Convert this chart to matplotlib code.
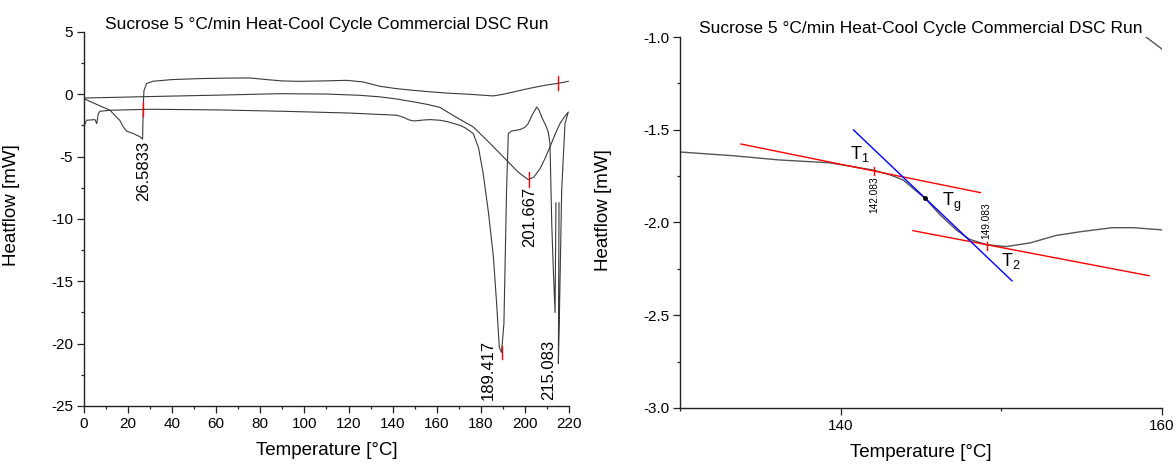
import matplotlib
matplotlib.use("Agg")
import matplotlib.pyplot as plt
from matplotlib.ticker import MultipleLocator, FormatStrFormatter

plt.rcParams["font.family"] = ["Liberation Sans", "DejaVu Sans"]
plt.rcParams["axes.unicode_minus"] = False
plt.rcParams["mathtext.fontset"] = "custom"
plt.rcParams["mathtext.rm"] = "Liberation Sans"
plt.rcParams["mathtext.it"] = "Liberation Sans"

# ── Full run (left panel) ─────────────────────────────────────────────────────
heat1_T = [0, 5, 11.8, 16.3, 17.8, 19.3, 22.4, 25.4, 26.58, 26.9, 27.2, 28.4, 31.4,
           40, 52.6, 65, 75.3, 82.9, 90, 98, 110, 119.2, 126.7, 134.3, 142, 149.4,
           157, 164.5, 175, 185.7, 190, 194.7, 200, 205, 210, 214.4, 219.7]
heat1_hf = [-0.35, -0.75, -1.28, -2.1, -2.6, -2.95, -3.15, -3.4, -3.6, -1.0, 0.3, 0.86, 1.05,
            1.18, 1.26, 1.3, 1.31, 1.18, 1.07, 1.04, 1.08, 1.12, 0.99, 0.64, 0.45, 0.32,
            0.2, 0.1, 0.0, -0.13, 0.0, 0.18, 0.4, 0.58, 0.75, 0.86, 1.04]

mid_T = [0, 30, 60, 89, 110, 125, 134, 142, 150, 156, 161.5, 168, 176.6, 184, 191.7,
         197, 201.5, 204, 206.9, 209, 211.4, 213.5, 215.9, 218, 219.7,
         218.2, 216.7, 215.6, 215.2, 215.5]
mid_hf = [-0.3, -0.18, -0.07, 0.05, 0.02, -0.08, -0.2, -0.38, -0.62, -0.82, -1.05, -1.75,
          -2.62, -3.9, -5.29, -6.25, -6.84, -6.65, -5.96, -5.2, -4.22, -3.3, -2.35, -1.8,
          -1.42, -2.35, -7.7, -18.4, -21.6, -8.7]

reheat_T = [0, 0.45, 1.2, 5.0, 5.8, 6.5, 7.3, 11.8, 30, 60, 90, 120, 142, 145.3, 147.2,
            149.1, 150.3, 153.4, 157, 161.5, 165, 170.6, 173, 176.6, 179, 181.1, 183.5,
            185.7, 187.2, 188.4, 189.4, 190.5, 191.1, 191.7, 192.5, 194.0, 197.8, 200,
            201.5, 203.5, 205.4, 206.5, 207.6, 209.5, 210.6, 211.4, 212.2, 212.9, 213.7, 214.1]
reheat_hf = [-2.7, -2.35, -2.08, -2.03, -2.35, -1.55, -1.36, -1.28, -1.2, -1.25, -1.36,
             -1.5, -1.68, -1.87, -2.04, -2.12, -2.13, -2.07, -2.03, -2.08, -2.2, -2.49,
             -2.7, -3.15, -4.3, -6.36, -9.5, -13.0, -16.8, -20.3, -20.7, -18.4, -13.0,
             -7.7, -3.15, -2.94, -2.83, -2.65, -2.35, -1.6, -1.02, -1.3, -1.82, -2.5,
             -3.02, -3.95, -10.4, -14.0, -17.5, -8.7]

# evaluated points: temperature, tick y-range, label anchor
peak_T = [26.5833, 201.667, 189.417, 215.083]
peak_labels = ["26.5833", "201.667", "189.417", "215.083"]
tick_lo = [-1.74, -7.43, -21.2, 0.38]
tick_hi = [-0.62, -6.23, -20.2, 1.44]
label_T = [27.2, 202.0, 183.4, 210.6]
label_y = [-3.75, -7.45, -24.5, -24.5]
label_va = ["top", "top", "bottom", "bottom"]
tick_T = [26.6, 201.67, 189.5, 215.2]

# ── Glass-transition zoom (right panel) ───────────────────────────────────────
zoom_T = [130, 133.3, 136.2, 139.3, 142.0, 143.1, 143.9, 144.5, 145.26, 146.2, 147.2,
          148.0, 149.1, 150.3, 151.8, 153.4, 154.9, 156.9, 158.2, 160.05]
zoom_hf = [-1.62, -1.64, -1.663, -1.678, -1.717, -1.744, -1.771, -1.816, -1.87, -1.96,
           -2.04, -2.09, -2.12, -2.13, -2.11, -2.07, -2.05, -2.028, -2.028, -2.04]
frag_T = [158.0, 161.0]
frag_hf = [-0.935, -1.13]

onset_T = [133.8, 148.7]        # T1 baseline tangent
onset_hf = [-1.577, -1.839]
end_T = [144.5, 159.2]          # T2 baseline tangent
end_hf = [-2.044, -2.287]
slope_T = [140.8, 150.67]       # inflection tangent
slope_hf = [-1.501, -2.315]
tg_T, tg_hf = 145.26, -1.87

T1_val, T2_val = 142.083, 149.083

TITLE = "Sucrose 5 \u00b0C/min Heat-Cool Cycle Commercial DSC Run"
CURVE = "#3a3a3a"

fig = plt.figure(figsize=(11.76, 4.66), dpi=100)
ax1 = fig.add_axes([0.0714, 0.1288, 0.4124, 0.8026])
ax2 = fig.add_axes([0.5782, 0.1245, 0.4099, 0.7961])

for ax in (ax1, ax2):
    for s in ("top", "right"):
        ax.spines[s].set_visible(False)
    for s in ("left", "bottom"):
        ax.spines[s].set_linewidth(1.0)
        ax.spines[s].set_color("#222222")
    ax.tick_params(which="major", direction="out", length=4.8, width=0.9,
                   labelsize=11, color="#222222", pad=3)
    ax.tick_params(which="minor", direction="out", length=2.5, width=0.9, color="#222222")

# left panel
ax1.plot(heat1_T, heat1_hf, color=CURVE, lw=0.8)
ax1.plot(mid_T, mid_hf, color=CURVE, lw=0.8)
ax1.plot(reheat_T, reheat_hf, color=CURVE, lw=0.8)
for t, lo, hi in zip(tick_T, tick_lo, tick_hi):
    ax1.plot([t, t], [lo, hi], color="red", lw=1.0)
for lbl, t, y, va in zip(peak_labels, label_T, label_y, label_va):
    ax1.text(t, y, lbl, rotation=90, ha="center", va=va, fontsize=12)

ax1.set_xlim(0, 220)
ax1.set_ylim(-25, 5)
ax1.xaxis.set_major_locator(MultipleLocator(20))
ax1.xaxis.set_minor_locator(MultipleLocator(10))
ax1.yaxis.set_major_locator(MultipleLocator(5))
ax1.yaxis.set_minor_locator(MultipleLocator(2.5))
ax1.set_title(TITLE, fontsize=12.5, pad=1.5)
ax1.set_xlabel("Temperature [\u00b0C]", fontsize=13.5)
ax1.set_ylabel("Heatflow [mW]", fontsize=13.5)
ax1.xaxis.set_label_coords(0.5, -0.096)
ax1.yaxis.set_label_coords(-0.132, 0.536)

# right panel
ax2.plot(zoom_T, zoom_hf, color="#555555", lw=1.0)
ax2.plot(frag_T, frag_hf, color="#555555", lw=1.0)
ax2.plot(onset_T, onset_hf, color="red", lw=1.0)
ax2.plot(end_T, end_hf, color="red", lw=1.0)
ax2.plot(slope_T, slope_hf, color="blue", lw=1.0)
ax2.plot(tg_T, tg_hf, "o", color="black", ms=2.5)

ax2.plot([T1_val, T1_val], [-1.70, -1.744], color="red", lw=1.0)
ax2.plot([T2_val, T2_val], [-2.103, -2.148], color="red", lw=1.0)
ax2.text(T1_val, -1.753, f"{T1_val:.3f}", rotation=90, ha="center", va="top", fontsize=7.3)
ax2.text(T2_val, -2.087, f"{T2_val:.3f}", rotation=90, ha="center", va="bottom", fontsize=7.3)
ax2.text(140.6, -1.63, r"T$_\mathregular{1}$", fontsize=13, va="center")
ax2.text(146.3, -1.89, r"T$_\mathregular{g}$", fontsize=13, va="center")
ax2.text(150.0, -2.21, r"T$_\mathregular{2}$", fontsize=13, va="center")

ax2.set_xlim(130, 160)
ax2.set_ylim(-3.0, -1.0)
ax2.xaxis.set_major_locator(MultipleLocator(20))
ax2.xaxis.set_minor_locator(MultipleLocator(10))
ax2.yaxis.set_major_locator(MultipleLocator(0.5))
ax2.yaxis.set_minor_locator(MultipleLocator(0.25))
ax2.yaxis.set_major_formatter(FormatStrFormatter("%.1f"))
ax2.set_title(TITLE, fontsize=12.5, pad=2.7)
ax2.set_xlabel("Temperature [\u00b0C]", fontsize=13.5)
ax2.set_ylabel("Heatflow [mW]", fontsize=13.5)
ax2.xaxis.set_label_coords(0.5, -0.097)
ax2.yaxis.set_label_coords(-0.141, 0.534)

fig.savefig("out.png", dpi=100)
